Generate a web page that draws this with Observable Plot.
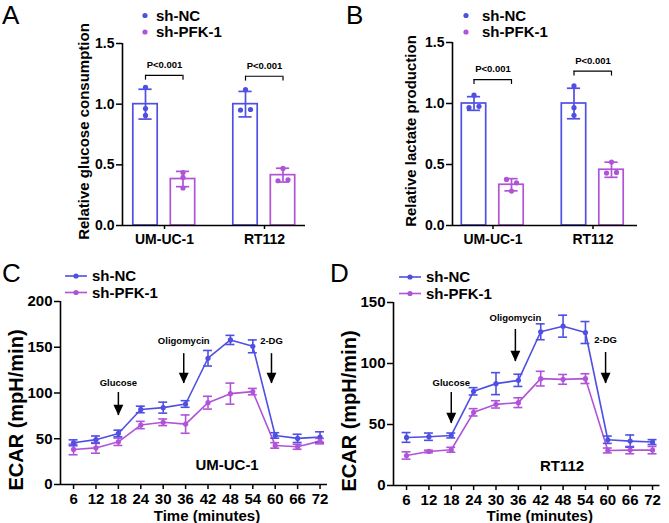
<!DOCTYPE html>
<html><head><meta charset="utf-8">
<script src="https://cdn.jsdelivr.net/npm/d3@7"></script>
<script src="https://cdn.jsdelivr.net/npm/@observablehq/plot@0.6"></script>
<style>
html,body{margin:0;padding:0;background:#fff;}
#fig{position:relative;width:669px;height:523px;overflow:hidden;background:#fff;}
#fig > svg{position:absolute;}
</style></head>
<body><div id="fig"></div>
<script>
// ---------------- data ----------------
const groups = ["UM-UC-1", "RT112"];
const seriesNames = ["sh-NC", "sh-PFK-1"];
const panelLetters = ["A", "B", "C", "D"];

// Panel A: relative glucose consumption  [group, series, mean, sd]
const glucoseBars = [
  ["UM-UC-1", "sh-NC", 1.00, 0.123],
  ["UM-UC-1", "sh-PFK-1", 0.383, 0.063],
  ["RT112", "sh-NC", 1.00, 0.105],
  ["RT112", "sh-PFK-1", 0.415, 0.057]
];
const glucosePoints = [
  ["UM-UC-1", "sh-NC", 1.139], ["UM-UC-1", "sh-NC", 0.964], ["UM-UC-1", "sh-NC", 0.907],
  ["UM-UC-1", "sh-PFK-1", 0.437], ["UM-UC-1", "sh-PFK-1", 0.396], ["UM-UC-1", "sh-PFK-1", 0.309],
  ["RT112", "sh-NC", 1.12], ["RT112", "sh-NC", 0.951], ["RT112", "sh-NC", 0.956],
  ["RT112", "sh-PFK-1", 0.47], ["RT112", "sh-PFK-1", 0.369], ["RT112", "sh-PFK-1", 0.377]
];
const glucoseBrackets = [["UM-UC-1", 1.238, "P<0.001"], ["RT112", 1.23, "P<0.001"]];

// Panel B: relative lactate production
const lactateBars = [
  ["UM-UC-1", "sh-NC", 1.00, 0.056],
  ["UM-UC-1", "sh-PFK-1", 0.334, 0.05],
  ["RT112", "sh-NC", 1.00, 0.125],
  ["RT112", "sh-PFK-1", 0.457, 0.062]
];
const lactatePoints = [
  ["UM-UC-1", "sh-NC", 1.068], ["UM-UC-1", "sh-NC", 0.966], ["UM-UC-1", "sh-NC", 0.977],
  ["UM-UC-1", "sh-PFK-1", 0.378], ["UM-UC-1", "sh-PFK-1", 0.35], ["UM-UC-1", "sh-PFK-1", 0.282],
  ["RT112", "sh-NC", 1.144], ["RT112", "sh-NC", 0.966], ["RT112", "sh-NC", 0.903],
  ["RT112", "sh-PFK-1", 0.52], ["RT112", "sh-PFK-1", 0.43], ["RT112", "sh-PFK-1", 0.435]
];
const lactateBrackets = [["UM-UC-1", 1.196, "P<0.001"], ["RT112", 1.265, "P<0.001"]];
const barYTicks = [0, 0.5, 1.0, 1.5];

// Panels C & D: ECAR (mpH/min)
const minutes = [6, 12, 18, 24, 30, 36, 42, 48, 54, 60, 66, 72];
const umNC     = [45.6, 49.0, 55.8, 82.0, 84.0, 88.0, 138.0, 158.0, 151.0, 53.6, 50.4, 51.8];
const umNCsd   = [3.2, 4.0, 3.6, 3.6, 6.0, 3.6, 8.5, 5.0, 7.0, 3.0, 4.5, 5.8];
const umPFK    = [38.3, 40.0, 46.7, 65.0, 68.0, 66.0, 89.4, 99.3, 101.5, 42.7, 41.2, 47.4];
const umPFKsd  = [5.8, 5.8, 4.0, 4.0, 3.6, 10.0, 7.0, 11.5, 3.5, 3.0, 2.7, 3.0];
const rtNC     = [39.4, 40.0, 41.0, 77.2, 83.5, 86.2, 126.0, 130.6, 125.4, 37.5, 36.4, 35.6];
const rtNCsd   = [4.0, 3.0, 2.0, 3.0, 9.0, 5.0, 6.5, 9.0, 9.0, 3.0, 5.0, 2.0];
const rtPFK    = [24.6, 27.9, 29.3, 60.0, 66.5, 67.9, 87.6, 87.0, 87.6, 28.7, 29.0, 29.0];
const rtPFKsd  = [3.0, 1.0, 2.0, 3.0, 3.0, 4.0, 6.0, 4.0, 4.0, 2.0, 3.0, 3.0];
// treatment injections: [label, minute, arrow start, arrow tip, label y]
const umEvents = [["Glucose", 18, 100.5, 75.4, 111.5], ["Oligomycin", 35.5, 143, 110.4, 157.4], ["2-DG", 59, 143, 110.4, 157.4]];
const rtEvents = [["Glucose", 18, 76.2, 50.8, 84.4], ["Oligomycin", 35.2, 127.9, 101.6, 137.7], ["2-DG", 59.4, 109, 83.6, 118.9]];
const umLabel = ["UM-UC-1", 47.1, 20.8];
const rtLabel = ["RT112", 47.7, 15.6];
const umYTicks = [0, 50, 100, 150, 200];
const rtYTicks = [0, 50, 100, 150];

// ---------------- style ----------------
const BLUE = "#4f4fe4", PURPLE = "#b153d8";
const FONT = '"Liberation Sans", Arial, Helvetica, sans-serif';
const fig = document.getElementById("fig");
const baseStyle = {fontFamily: FONT, fontWeight: "bold", fontSize: "14px", color: "black", background: "transparent", overflow: "visible"};
const colorScale = {domain: seriesNames, range: [BLUE, PURPLE]};

function place(svg, left, top) {
  svg.style.position = "absolute";
  svg.style.left = left + "px";
  svg.style.top = top + "px";
  fig.appendChild(svg);
}

// ---------------- bar panels (A, B) ----------------
function barPanel({bars, points, brackets, ylabel, left, top, width, height, mL, mR, mT, mB, xDomain, labelDx, labelDy}) {
  const OFF = {"sh-NC": -0.19, "sh-PFK-1": 0.185};
  const HALF = 0.122, CAP = 0.066, JIT = 0.05, ARM = 0.04, TXT = 0.087;
  const gi = g => groups.indexOf(g);
  const barRows = bars.map(([group, series, mean, sd]) => ({group, series, mean, sd, cx: gi(group) + OFF[series]}));
  const ptRows = points.map(([group, series, value]) => ({group, series, value, cx: gi(group) + OFF[series], j: 0}));
  // spread points that would overlap
  for (const b of barRows) {
    const ps = ptRows.filter(p => p.group === b.group && p.series === b.series);
    for (let i = 0; i < ps.length; i++) for (let k = i + 1; k < ps.length; k++)
      if (Math.abs(ps[i].value - ps[k].value) < 0.035) { ps[i].j = -1; ps[k].j = 1; }
  }
  const br = brackets.map(([group, y, label]) => ({group, y, label, a: gi(group) + OFF["sh-NC"], b: gi(group) + OFF["sh-PFK-1"], c: gi(group)}));
  const svg = Plot.plot({
    width, height, marginLeft: mL, marginRight: mR, marginTop: mT, marginBottom: mB,
    style: baseStyle,
    x: {domain: xDomain},
    y: {domain: [0, 1.5]},
    color: colorScale,
    marks: [
      Plot.rectY(barRows, {x1: d => d.cx - HALF, x2: d => d.cx + HALF, y1: 0, y2: "mean", fill: "white", stroke: "series", strokeWidth: 1.7}),
      Plot.ruleX(barRows, {x: "cx", y1: d => d.mean - d.sd, y2: d => d.mean + d.sd, stroke: "series", strokeWidth: 1.7}),
      Plot.ruleY(barRows, {x1: d => d.cx - CAP, x2: d => d.cx + CAP, y: d => d.mean + d.sd, stroke: "series", strokeWidth: 1.7}),
      Plot.ruleY(barRows, {x1: d => d.cx - CAP, x2: d => d.cx + CAP, y: d => d.mean - d.sd, stroke: "series", strokeWidth: 1.7}),
      Plot.dot(ptRows, {x: d => d.cx + d.j * JIT, y: "value", fill: "series", r: 2.6}),
      Plot.ruleY(br, {x1: "a", x2: "b", y: "y", stroke: "black", strokeWidth: 1.2}),
      Plot.ruleX(br, {x: "a", y1: d => d.y - ARM, y2: "y", stroke: "black", strokeWidth: 1.2}),
      Plot.ruleX(br, {x: "b", y1: d => d.y - ARM, y2: "y", stroke: "black", strokeWidth: 1.2}),
      Plot.text(br, {x: "c", y: d => d.y + TXT, text: "label", fontSize: 9.5, fill: "black"}),
      Plot.ruleY([0], {stroke: "black", strokeWidth: 1.6}),
      Plot.ruleX([xDomain[0]], {stroke: "black", strokeWidth: 1.6}),
      Plot.axisY({ticks: barYTicks, tickFormat: d3.format(".1f"), tickSize: 6, tickPadding: 2, fontSize: 14, strokeWidth: 1.5, label: null}),
      Plot.axisX({ticks: [0, 1], tickFormat: i => groups[i], tickSize: 4, tickPadding: 5, fontSize: 14, strokeWidth: 1.5, label: null}),
      Plot.text([ylabel], {text: d => d, frameAnchor: "left", textAnchor: "middle", lineAnchor: "middle", rotate: -90, dx: labelDx, dy: labelDy, fontSize: 15, fill: "black"})
    ]
  });
  place(svg, left, top);
}

barPanel({bars: glucoseBars, points: glucosePoints, brackets: glucoseBrackets, ylabel: "Relative glucose consumption",
  left: 0, top: 0, width: 335, height: 260, mL: 122, mR: 30, mT: 43, mB: 35, xDomain: [-0.42, 1.41], labelDx: -38, labelDy: -3});
barPanel({bars: lactateBars, points: lactatePoints, brackets: lactateBrackets, ylabel: "Relative lactate production",
  left: 335, top: 0, width: 334, height: 260, mL: 117, mR: 32, mT: 42, mB: 35, xDomain: [-0.405, 1.445], labelDx: -41, labelDy: -3});

// ---------------- ECAR panels (C, D) ----------------
const arrowHead = {
  draw(ctx, size) {
    const s = Math.sqrt(size), w = 1.3 * s, h = 1.42 * s;
    ctx.moveTo(0, 0); ctx.lineTo(-w / 2, -h); ctx.lineTo(w / 2, -h); ctx.closePath();
  }
};

function ecarPanel({nc, ncSd, pfk, pfkSd, events, cell, yMax, yTicks, left, top, width, height, mL, mR, mT, mB, titleDy}) {
  const CAP = 1.2;
  const rows = [];
  minutes.forEach((t, i) => rows.push({series: "sh-NC", time: t, value: nc[i], sd: ncSd[i]}));
  minutes.forEach((t, i) => rows.push({series: "sh-PFK-1", time: t, value: pfk[i], sd: pfkSd[i]}));
  const ev = events.map(([label, x, y1, y2, ly]) => ({label, x, y1, y2, ly}));
  const xDomain = [2.5, 74];
  const svg = Plot.plot({
    width, height, marginLeft: mL, marginRight: mR, marginTop: mT, marginBottom: mB,
    style: baseStyle,
    x: {domain: xDomain},
    y: {domain: [0, yMax]},
    color: colorScale,
    marks: [
      Plot.lineY(rows, {x: "time", y: "value", stroke: "series", strokeWidth: 1.6}),
      Plot.ruleX(rows, {x: "time", y1: d => d.value - d.sd, y2: d => d.value + d.sd, stroke: "series", strokeWidth: 1.6}),
      Plot.ruleY(rows, {x1: d => d.time - CAP, x2: d => d.time + CAP, y: d => d.value + d.sd, stroke: "series", strokeWidth: 1.6}),
      Plot.ruleY(rows, {x1: d => d.time - CAP, x2: d => d.time + CAP, y: d => d.value - d.sd, stroke: "series", strokeWidth: 1.6}),
      Plot.dot(rows, {x: "time", y: "value", fill: "series", r: 2.6}),
      Plot.ruleX(ev, {x: "x", y1: "y1", y2: "y2", stroke: "black", strokeWidth: 1.5}),
      Plot.dot(ev, {x: "x", y: "y2", symbol: arrowHead, r: 4.3, fill: "black", stroke: "none"}),
      Plot.text(ev, {x: "x", y: "ly", text: "label", fontSize: 9.5, fill: "black"}),
      Plot.text([cell], {x: d => d[1], y: d => d[2], text: d => d[0], fontSize: 15, fill: "black"}),
      Plot.ruleY([0], {stroke: "black", strokeWidth: 1.6}),
      Plot.ruleX([xDomain[0]], {stroke: "black", strokeWidth: 1.6}),
      Plot.axisY({ticks: yTicks, tickSize: 6, tickPadding: 2, fontSize: 15, strokeWidth: 1.5, label: null}),
      Plot.axisX({ticks: minutes, tickFormat: d => String(d), tickSize: 5, tickPadding: 4, fontSize: 15, strokeWidth: 1.5, label: null}),
      Plot.text(["ECAR (mpH/min)"], {text: d => d, frameAnchor: "left", textAnchor: "middle", lineAnchor: "middle", rotate: -90, dx: -44, dy: 17, fontSize: 20, fill: "black"}),
      Plot.text(["Time (minutes)"], {text: d => d, frameAnchor: "bottom", textAnchor: "middle", lineAnchor: "middle", dx: 13, dy: titleDy, fontSize: 15, fill: "black"})
    ]
  });
  place(svg, left, top);
}

ecarPanel({nc: umNC, ncSd: umNCsd, pfk: umPFK, pfkSd: umPFKsd, events: umEvents, cell: umLabel, yMax: 200, yTicks: umYTicks,
  left: 0, top: 260, width: 335, height: 263, mL: 60, mR: 8, mT: 41, mB: 39, titleDy: 31.5});
ecarPanel({nc: rtNC, ncSd: rtNCsd, pfk: rtPFK, pfkSd: rtPFKsd, events: rtEvents, cell: rtLabel, yMax: 150, yTicks: rtYTicks,
  left: 335, top: 260, width: 334, height: 263, mL: 58, mR: 9.5, mT: 42, mB: 38, titleDy: 30.5});

// ---------------- legends and panel letters ----------------
const NS = "http://www.w3.org/2000/svg";
const ov = document.createElementNS(NS, "svg");
ov.setAttribute("width", 669); ov.setAttribute("height", 523);
ov.style.left = "0px"; ov.style.top = "0px"; ov.style.pointerEvents = "none";
fig.appendChild(ov);
function el(tag, attrs, text) {
  const e = document.createElementNS(NS, tag);
  for (const k in attrs) e.setAttribute(k, attrs[k]);
  if (text != null) e.textContent = text;
  ov.appendChild(e);
  return e;
}
const colors = [BLUE, PURPLE];
const legends = [
  {x: 145, y: 15.5, tx: 156, type: "dot"},
  {x: 466, y: 15.5, tx: 482, type: "dot"},
  {x: 76, y: 276, tx: 92, type: "line"},
  {x: 410, y: 277, tx: 426, type: "line"}
];
for (const L of legends) {
  seriesNames.forEach((name, i) => {
    const y = L.y + i * 16.5;
    if (L.type === "line") el("line", {x1: L.x - 11, x2: L.x + 11, y1: y, y2: y, stroke: colors[i], "stroke-width": 1.6});
    el("circle", {cx: L.x, cy: y, r: 2.6, fill: colors[i]});
    el("text", {x: L.tx, y: y + 5.3, "font-family": FONT, "font-weight": "bold", "font-size": 15, fill: "black"}, name);
  });
}
const letterPos = [[2, 24], [346, 24], [2, 282], [330, 282]];
panelLetters.forEach((t, i) => el("text", {x: letterPos[i][0], y: letterPos[i][1], "font-family": FONT, "font-size": 26, fill: "black"}, t));
</script>
</body></html>
